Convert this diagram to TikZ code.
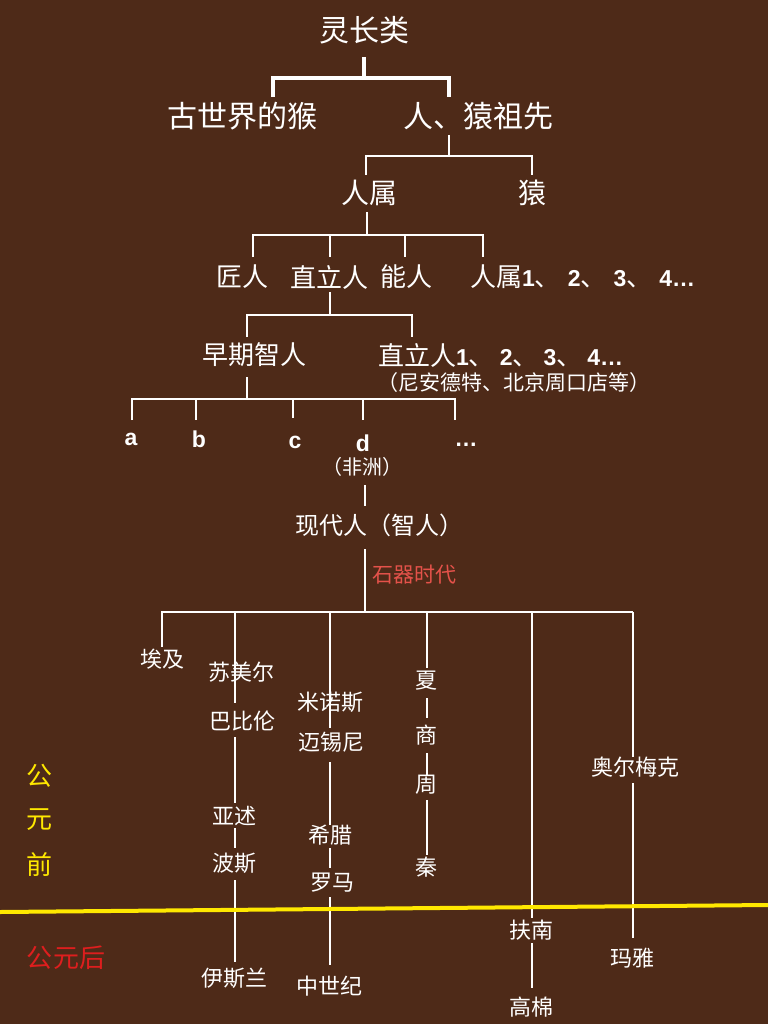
\documentclass[tikz,border=0pt]{standalone}
\usepackage{fontspec}
\setmainfont{Noto Sans CJK SC}
\newfontfamily\lat{Liberation Sans}
\definecolor{bg}{RGB}{78,42,24}
\definecolor{ylw}{RGB}{255,232,0}
\definecolor{stone}{RGB}{228,82,74}
\definecolor{adred}{RGB}{222,30,30}
\newcommand\bnum[1]{{\lat\bfseries\fontsize{23}{25}\selectfont #1}}
\newcommand\dun[1]{、\hspace{#1}}
\begin{document}
\begin{tikzpicture}[x=1pt,y=-1pt,
  lbl/.style={text=white,inner sep=0pt,outer sep=0pt},
  fA/.style={font=\fontsize{30}{32}\selectfont},
  fB/.style={font=\fontsize{28}{30}\selectfont},
  fC/.style={font=\fontsize{26}{28}\selectfont},
  fD/.style={font=\fontsize{21}{23}\selectfont},
  fE/.style={font=\fontsize{22}{24}\selectfont},
  fL/.style={font=\lat\bfseries\fontsize{23}{25}\selectfont},
  wA/.style={draw=white,line width=3.5pt},
  wB/.style={draw=white,line width=2.5pt},
  wC/.style={draw=white,line width=2pt},
  ]
\fill[bg] (0,0) rectangle (768,1024);
\useasboundingbox (0,0) rectangle (768,1024);

% ---------- top levels ----------
\node[lbl,fA] (root) at (364,30) {灵长类};
\node[lbl,fA] (oldm) at (242,116) {古世界的猴};
\node[lbl,fA] (anc)  at (478,116) {人、猿祖先};
\coordinate (j1) at (364,78);
\draw[wA] (364,57) -- (j1);
\draw[wA] (273,97) -- (273,78) -- (449,78) -- (449,97);

\node[lbl,fB] (homo) at (369,193) {人属};
\node[lbl,fB] (ape)  at (532,193) {猿};
\coordinate (j2) at (449,156);
\draw[wB] (449,135) -- (j2);
\draw[wB] (366,175) -- (366,156) -- (532,156) -- (532,175);

\node[lbl,fC] (jiang) at (242,277) {匠人};
\node[lbl,fC] (zhili) at (329,277) {直立人};
\node[lbl,fC] (neng)  at (406,277) {能人};
\node[lbl,fC,anchor=west] (homon) at (470,277) {人属\bnum{1}\dun{7pt}\bnum{2}\dun{7pt}\bnum{3}\dun{7pt}\bnum{4…}};
\coordinate (j3) at (367,235);
\draw[wB] (367,212) -- (j3);
\draw[wB] (253,257) -- (253,235) -- (483,235) -- (483,257);
\draw[wB] (330,235) -- (330,257);
\draw[wB] (405,235) -- (405,257);

\node[lbl,fC] (early) at (254,355) {早期智人};
\node[lbl,fC,anchor=west] (zhilin) at (378,355) {直立人\bnum{1}\dun{5pt}\bnum{2}\dun{5pt}\bnum{3}\dun{5pt}\bnum{4…}};
\node[lbl,fD,anchor=west] (nean) at (377,383) {（尼安德特、北京周口店等）};
\coordinate (j4) at (330,315);
\draw[wB] (330,292) -- (j4);
\draw[wB] (247,337) -- (247,315) -- (412,315) -- (412,337);

\node[lbl,fL,anchor=base] (a) at (131,445) {a};
\node[lbl,fL,anchor=base] (b) at (199,447) {b};
\node[lbl,fL,anchor=base] (c) at (295,448) {c};
\node[lbl,fL,anchor=base] (d) at (363,451) {d};
\node[lbl,fL,anchor=base] (dots) at (466,446) {…};
\node[lbl,font=\fontsize{20}{22}\selectfont] (afr) at (362,467) {（非洲）};
\coordinate (j5) at (247,399);
\draw[wB] (247,377) -- (j5);
\draw[wB] (132,420) -- (132,399) -- (455,399) -- (455,420);
\draw[wB] (196,399) -- (196,420);
\draw[wB] (293,399) -- (293,418);
\draw[wB] (363,399) -- (363,420);

\node[lbl,font=\fontsize{24}{26}\selectfont,anchor=west] (modern) at (295,525) {现代人（智人）};
\draw[wB] (365,485) -- (365,506);
\node[text=stone,inner sep=0pt,font=\fontsize{21}{23}\selectfont,anchor=west] (stoneage) at (372,575) {石器时代};

% ---------- civilisations ----------
\coordinate (j6) at (365,612);
\draw[wC] (365,549) -- (j6);
\draw[wC] (162,647) -- (162,612) -- (633,612);

\draw[wC] (235,612) -- (235,703);
\draw[wC] (235,737) -- (235,803);
\draw[wC] (235,828) -- (235,848);
\draw[wC] (235,880) -- (235,962);

\draw[wC] (330,612) -- (330,728);
\draw[wC] (330,762) -- (330,825);
\draw[wC] (330,848) -- (330,868);
\draw[wC] (330,897) -- (330,965);

\draw[wC] (427,612) -- (427,668);
\draw[wC] (427,698) -- (427,718);
\draw[wC] (427,753) -- (427,775);
\draw[wC] (427,800) -- (427,855);

\draw[wC] (532,612) -- (532,918);
\draw[wC] (532,943) -- (532,988);

\draw[wC] (633,612) -- (633,757);
\draw[wC] (633,783) -- (633,938);

\node[lbl,fE] (egypt) at (162,659) {埃及};
\node[lbl,fE] (sumer) at (241,672) {苏美尔};
\node[lbl,fE] (babyl) at (242,721) {巴比伦};
\node[lbl,fE] (assyr) at (234,816) {亚述};
\node[lbl,fE] (persia) at (234,863) {波斯};
\node[lbl,fE] (islam) at (234,978) {伊斯兰};

\node[lbl,fE] (minos) at (330,702) {米诺斯};
\node[lbl,fE] (myc) at (331,742) {迈锡尼};
\node[lbl,fE] (greece) at (330,835) {希腊};
\node[lbl,fE] (rome) at (332,883) {罗马};
\node[lbl,fE] (medi) at (329,986) {中世纪};

\node[lbl,fE] (xia) at (426,681) {夏};
\node[lbl,fE] (shang) at (426,735) {商};
\node[lbl,fE] (zhou) at (426,785) {周};
\node[lbl,fE] (qin) at (426,867) {秦};

\node[lbl,fE] (funan) at (531,930) {扶南};
\node[lbl,fE] (khmer) at (531,1007) {高棉};

\node[lbl,fE] (olmec) at (635,767) {奥尔梅克};
\node[lbl,fE] (maya) at (632,958) {玛雅};

% ---------- era ----------
\coordinate (ylL) at (0,912);
\coordinate (ylR) at (768,905);
\draw[ylw,line width=4pt] (ylL) -- (ylR);
\node[text=ylw,inner sep=0pt,font=\fontsize{26}{28}\selectfont] (bc1) at (40,776) {公};
\node[text=ylw,inner sep=0pt,font=\fontsize{26}{28}\selectfont] (bc2) at (40,820) {元};
\node[text=ylw,inner sep=0pt,font=\fontsize{26}{28}\selectfont] (bc3) at (40,865) {前};
\node[text=adred,inner sep=0pt,font=\fontsize{26}{28}\selectfont] (ad) at (66,958) {公元后};
\end{tikzpicture}
\end{document}
